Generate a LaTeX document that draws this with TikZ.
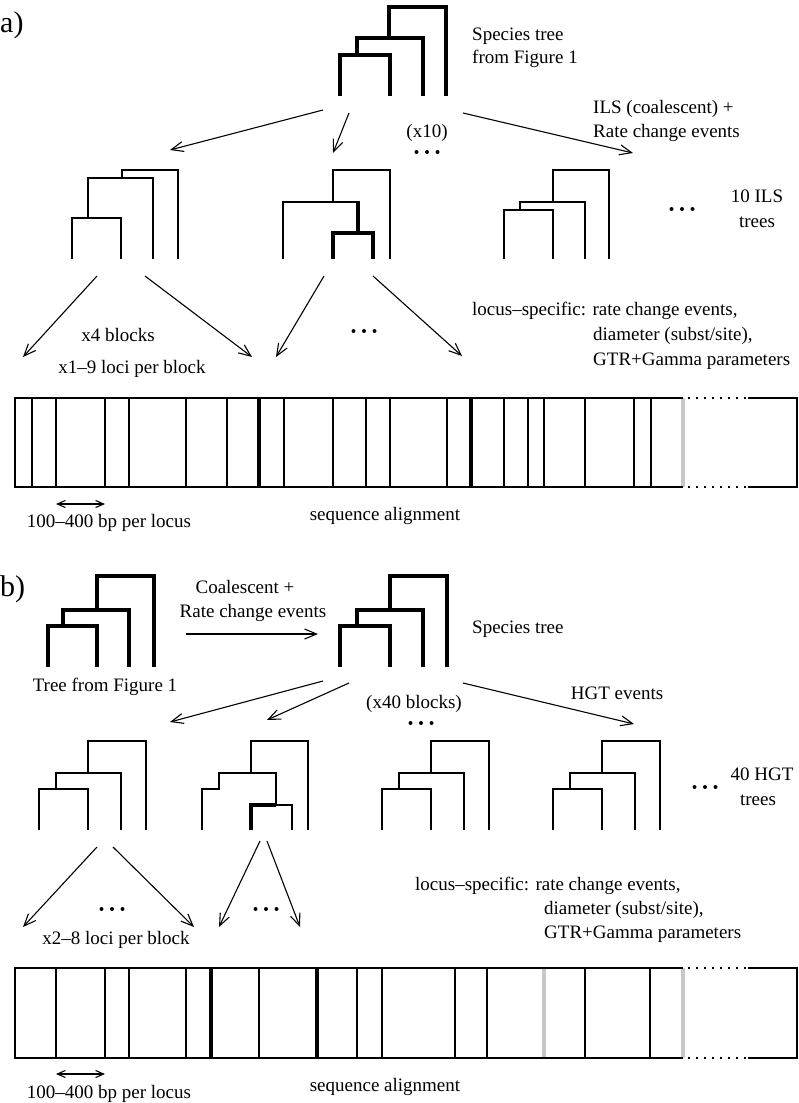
\documentclass[tikz,border=0pt]{standalone}
\usepackage{fontspec}
\setmainfont{Liberation Serif}
\usetikzlibrary{arrows.meta}
\begin{document}
\begin{tikzpicture}[x=1pt,y=-1pt,
  tn/.style={line width=1.2pt, line join=miter},
  tk/.style={line width=3.4pt, line join=miter},
  arr/.style={line width=1.1pt, -{Straight Barb[length=12pt,width=10pt]}},
  darr/.style={line width=1.1pt, {Straight Barb[length=8pt,width=7pt]}-{Straight Barb[length=8pt,width=7pt]}},
  lbl/.style={font=\fontsize{19}{24}\selectfont, inner sep=0pt},
  big/.style={font=\fontsize{30}{34}\selectfont, inner sep=0pt},
  dotrow/.style={minimum width=28pt, minimum height=6pt, inner sep=0pt,
    path picture={\foreach \i in {-1,0,1}\fill ([xshift=\i*10.5pt]path picture bounding box.center) circle (2pt);}},
  box/.style={line width=1.4pt},
  sep/.style={line width=1.2pt},
  sepk/.style={line width=4.5pt},
  sepg/.style={line width=4pt, draw=black!22},
  dotl/.style={line width=1.5pt, dash pattern=on 1.5pt off 6.5pt},
]
\useasboundingbox (0,0) rectangle (798,1103);

%%%%%%%%%%%%%%%% part a %%%%%%%%%%%%%%%%
\node[big, anchor=base west] (la) at (0,32) {a)};

% species tree
\draw[tk] (340,96)--(340,55)--(390,55)--(390,96);
\draw[tk] (357,55)--(357,38)--(423,38)--(423,96);
\draw[tk] (389,38)--(389,7)--(446,7)--(446,96);
\node[lbl, anchor=base west] (st1) at (472,40) {Species tree};
\node[lbl, anchor=base west] (st2) at (472,63) {from Figure 1};

% arrows to ILS trees
\coordinate (a1s) at (323,110); \coordinate (a1e) at (170,150);
\coordinate (a2s) at (349,113); \coordinate (a2e) at (333,153);
\coordinate (a3s) at (463,113); \coordinate (a3e) at (633,153);
\draw[arr] (a1s) -- (a1e);
\draw[arr] (a2s) -- (a2e);
\draw[arr] (a3s) -- (a3e);
\node[lbl, anchor=base] (x10) at (427,137) {(x10)};
\node[dotrow] (da1) at (427,152) {};
\node[lbl, anchor=base west] (ils1) at (593,113) {ILS (coalescent) +};
\node[lbl, anchor=base west] (ils2) at (593,137) {Rate change events};

% ILS trees
\draw[tn] (72,259)--(72,218)--(121,218)--(121,259);
\draw[tn] (88,218)--(88,178)--(153,178)--(153,259);
\draw[tn] (122,178)--(122,170)--(178,170)--(178,259);

\draw[tn] (283,259)--(283,202)--(358,202);
\draw[tn] (333,202)--(333,170)--(390,170)--(390,259);
\draw[tk] (358,201)--(358,233);
\draw[tk] (333,259)--(333,233)--(373,233)--(373,259);

\draw[tn] (504,259)--(504,210)--(553,210)--(553,259);
\draw[tn] (520,210)--(520,202)--(585,202)--(585,259);
\draw[tn] (553,202)--(553,170)--(609,170)--(609,259);

\node[dotrow] (da2) at (682,209) {};
\node[lbl, anchor=base] (ilst1) at (757,202) {10 ILS};
\node[lbl, anchor=base] (ilst2) at (757,227) {trees};

% arrows to alignment
\coordinate (b1s) at (97,276);  \coordinate (b1e) at (23,357);
\coordinate (b2s) at (145,276); \coordinate (b2e) at (252,357);
\coordinate (b3s) at (324,276); \coordinate (b3e) at (276,357);
\coordinate (b4s) at (373,276); \coordinate (b4e) at (462,356);
\draw[arr] (b1s) -- (b1e);
\draw[arr] (b2s) -- (b2e);
\draw[arr] (b3s) -- (b3e);
\draw[arr] (b4s) -- (b4e);
\node[lbl, anchor=base] (x4) at (118,341) {x4 blocks};
\node[lbl, anchor=base] (x19) at (132,373) {x1--9 loci per block};
\node[dotrow] (da3) at (364,331) {};
\node[lbl, anchor=base west] (lsa1) at (472,315) {locus--specific: rate change events,};
\node[lbl, anchor=base west] (lsa2) at (593,340) {diameter (subst/site),};
\node[lbl, anchor=base west] (lsa3) at (593,365) {GTR+Gamma parameters};

% alignment a
\foreach \x in {32,56,105,129,186,227,284,333,366,390,447,504,528,544,585,634,651}
  \draw[sep] (\x,398)--(\x,487);
\foreach \x in {259,471} \draw[sepk] (\x,398)--(\x,487);
\draw[sepg] (683,398)--(683,487);
\draw[box] (683,398) -- (15,398) -- (15,487) -- (683,487);
\draw[box] (748,398) -- (797,398) -- (797,487) -- (748,487);
\draw[dotl] (688,398) -- (748,398);
\draw[dotl] (688,487) -- (748,487);
\coordinate (ra1) at (56,504); \coordinate (ra2) at (105,504);
\draw[darr] (ra1) -- (ra2);
\node[lbl, anchor=base] (bpa) at (109,527) {100--400 bp per locus};
\node[lbl, anchor=base] (saa) at (385,520) {sequence alignment};

%%%%%%%%%%%%%%%% part b %%%%%%%%%%%%%%%%
\node[big, anchor=base west] (lb) at (0,596) {b)};

\draw[tk] (48,667)--(48,626)--(97,626)--(97,667);
\draw[tk] (63,626)--(63,610)--(129,610)--(129,667);
\draw[tk] (97,610)--(97,576)--(154,576)--(154,667);
\node[lbl, anchor=base] (tf) at (105,691) {Tree from Figure 1};

\node[lbl, anchor=base] (co1) at (245,593) {Coalescent +};
\node[lbl, anchor=base] (co2) at (253,617) {Rate change events};
\coordinate (c0s) at (186,634); \coordinate (c0e) at (318,634);
\draw[arr] (c0s) -- (c0e);

\draw[tk] (340,667)--(340,626)--(390,626)--(390,667);
\draw[tk] (357,626)--(357,610)--(423,610)--(423,667);
\draw[tk] (390,610)--(390,576)--(447,576)--(447,667);
\node[lbl, anchor=base west] (stb) at (472,633) {Species tree};

\coordinate (c1s) at (323,681); \coordinate (c1e) at (170,722);
\coordinate (c2s) at (349,683); \coordinate (c2e) at (267,720);
\coordinate (c3s) at (463,683); \coordinate (c3e) at (634,724);
\draw[arr] (c1s) -- (c1e);
\draw[arr] (c2s) -- (c2e);
\draw[arr] (c3s) -- (c3e);
\node[lbl, anchor=base] (x40) at (414,708) {(x40 blocks)};
\node[dotrow] (db1) at (421,723) {};
\node[lbl, anchor=base] (hgt) at (617,699) {HGT events};

% HGT trees
\foreach \dx in {0,343,514}{
  \begin{scope}[xshift=\dx]
    \draw[tn] (39,830)--(39,789)--(88,789)--(88,830);
    \draw[tn] (56,789)--(56,773)--(121,773)--(121,830);
    \draw[tn] (88,773)--(88,741)--(146,741)--(146,830);
  \end{scope}
}
\draw[tn] (202,830)--(202,789)--(219,789)--(219,773)--(276,773)--(276,805)--(292,805)--(292,830);
\draw[tn] (251,773)--(251,741)--(308,741)--(308,830);
\draw[tk] (276,805)--(251,805)--(251,830);

\node[dotrow] (db2) at (705,787) {};
\node[lbl, anchor=base] (hgtt1) at (762,780) {40 HGT};
\node[lbl, anchor=base] (hgtt2) at (758,805) {trees};

\coordinate (d1s) at (97,847);  \coordinate (d1e) at (23,927);
\coordinate (d2s) at (113,847); \coordinate (d2e) at (194,927);
\coordinate (d3s) at (260,841); \coordinate (d3e) at (219,927);
\coordinate (d4s) at (267,841); \coordinate (d4e) at (300,927);
\draw[arr] (d1s) -- (d1e);
\draw[arr] (d2s) -- (d2e);
\draw[arr] (d3s) -- (d3e);
\draw[arr] (d4s) -- (d4e);
\node[dotrow] (db3) at (112,909) {};
\node[dotrow] (db4) at (266,909) {};
\node[lbl, anchor=base] (x28) at (116,944) {x2--8 loci per block};
\node[lbl, anchor=base west] (lsb1) at (415,890) {locus--specific: rate change events,};
\node[lbl, anchor=base west] (lsb2) at (544,914) {diameter (subst/site),};
\node[lbl, anchor=base west] (lsb3) at (544,938) {GTR+Gamma parameters};

% alignment b
\foreach \x in {56,105,129,186,259,357,382,455,487,585,650}
  \draw[sep] (\x,968)--(\x,1058);
\foreach \x in {211,317} \draw[sepk] (\x,968)--(\x,1058);
\foreach \x in {544,683} \draw[sepg] (\x,968)--(\x,1058);
\draw[box] (683,968) -- (15,968) -- (15,1058) -- (683,1058);
\draw[box] (748,968) -- (797,968) -- (797,1058) -- (748,1058);
\draw[dotl] (688,968) -- (748,968);
\draw[dotl] (688,1058) -- (748,1058);
\coordinate (rb1) at (56,1074); \coordinate (rb2) at (105,1074);
\draw[darr] (rb1) -- (rb2);
\node[lbl, anchor=base] (bpb) at (109,1098) {100--400 bp per locus};
\node[lbl, anchor=base] (sab) at (385,1091) {sequence alignment};
\end{tikzpicture}
\end{document}
